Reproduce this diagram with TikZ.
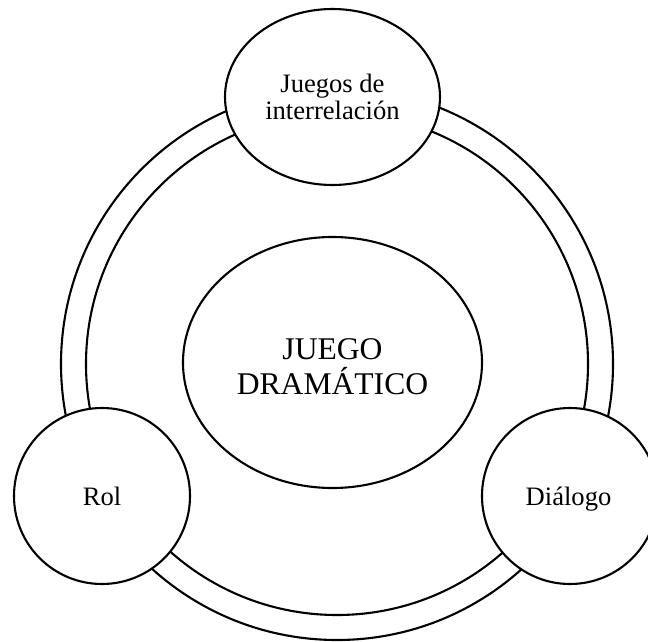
\documentclass[tikz,border=0pt]{standalone}
\usepackage{fontspec}
\setmainfont{Liberation Serif}
\usetikzlibrary{shapes.geometric}
\tikzset{
  ln/.style={line width=2.1pt, black},
  shp/.style={ln, draw, fill=white, inner sep=0pt, outer sep=0pt},
  ellshape/.style={shp, ellipse},
  circshape/.style={shp, circle},
  smalltxt/.style={font=\fontsize{26.6}{27}\selectfont, align=center, inner sep=0pt},
  bigtxt/.style={font=\fontsize{31.6}{35}\selectfont, align=center, inner sep=0pt}
}
\begin{document}
\begin{tikzpicture}[x=1pt, y=-1pt]
\useasboundingbox (0,0) rectangle (648,642);
% ring
\coordinate (rc) at (337,364);
\draw[ln] (rc) circle[radius=276];
\draw[ln] (rc) circle[radius=251];
% central ellipse
\node[ellshape, minimum width=299, minimum height=251] (centro) at (332.5,362.5) {};
\node[bigtxt] (centrotxt) at (332.5,366.5) {JUEGO\\DRAMÁTICO};
% top ellipse
\node[ellshape, minimum width=215, minimum height=176] (juegos) at (332.5,97) {};
\node[smalltxt] (juegostxt) at (332.5,96.5) {Juegos de\\interrelación};
% left circle
\node[circshape, minimum size=176] (rol) at (102,496) {};
\node[smalltxt, anchor=base] (roltxt) at (102,505) {Rol};
% right circle
\node[circshape, minimum size=176] (dialogo) at (570,496) {};
\node[smalltxt, anchor=base] (dialogotxt) at (568.5,505) {Diálogo};
\end{tikzpicture}
\end{document}
